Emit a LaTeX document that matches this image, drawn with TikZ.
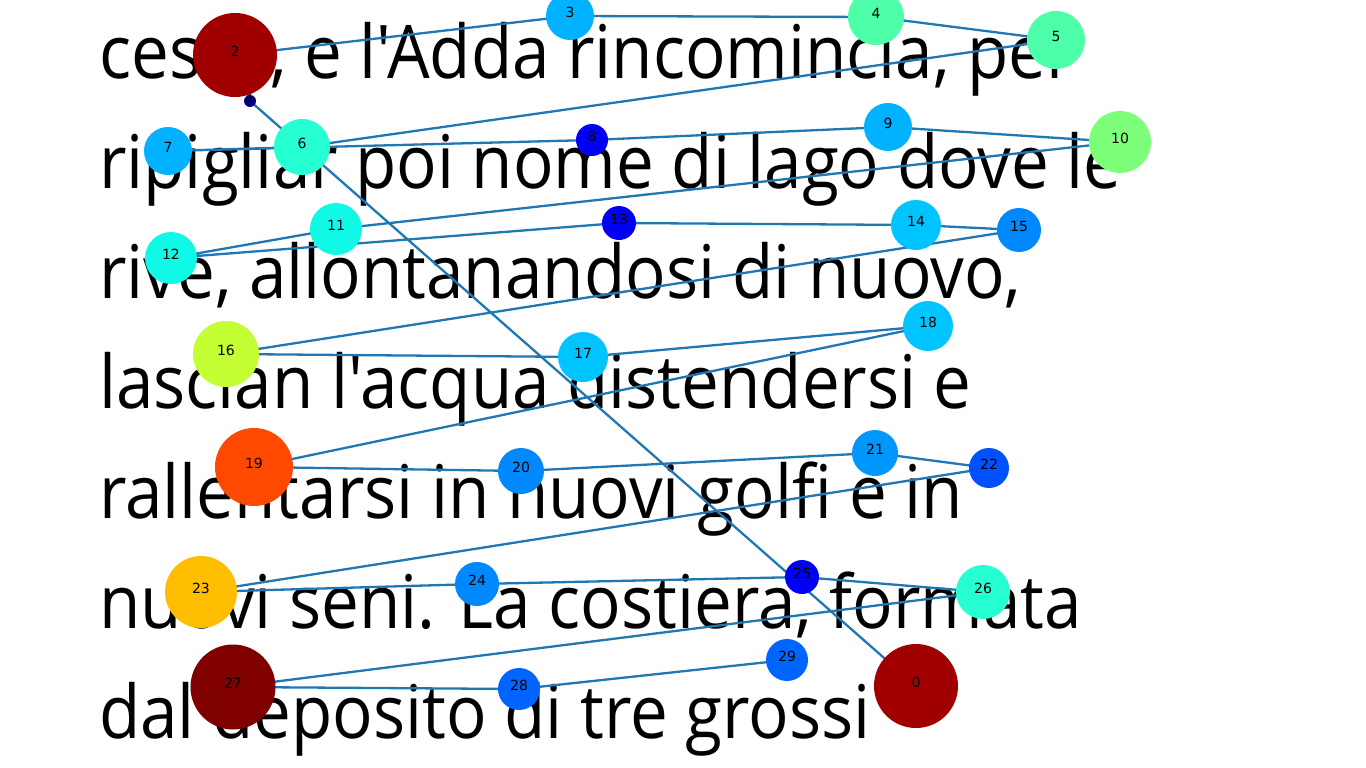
\documentclass[tikz,border=0pt]{standalone}
\usepackage{fontspec}
\usepackage{tikz}
\newfontfamily\bodyfont[Ligatures=TeXOff, FakeStretch=0.91]{Open Sans}
\newfontfamily\numfont{DejaVu Sans}

% jet colours of the nodes
\definecolor{linkblue}{HTML}{1F77B4}
\definecolor{jetmaroon}{RGB}{128,0,0}
\definecolor{jetdarkred}{RGB}{160,0,0}
\definecolor{jetnavy}{RGB}{0,0,128}
\definecolor{jetblue}{RGB}{0,0,245}
\definecolor{jetroyal}{RGB}{0,80,255}
\definecolor{jetazure}{RGB}{0,100,255}
\definecolor{jetdodger}{RGB}{0,136,255}
\definecolor{jetcerul}{RGB}{0,152,255}
\definecolor{jetsky}{RGB}{0,178,255}
\definecolor{jetcyan}{RGB}{0,196,255}
\definecolor{jetturq}{RGB}{16,248,230}
\definecolor{jetaqua}{RGB}{38,255,210}
\definecolor{jetmint}{RGB}{78,255,170}
\definecolor{jetlime}{RGB}{125,255,122}
\definecolor{jetyellow}{RGB}{196,255,52}
\definecolor{jetamber}{RGB}{255,189,0}
\definecolor{jetorange}{RGB}{255,72,0}

\pgfdeclarelayer{prose}
\pgfdeclarelayer{links}
\pgfsetlayers{prose,links,main}

\begin{document}
\begin{tikzpicture}[
  x=1pt, y=-1pt,
  vtx/.style={circle, inner sep=0pt, minimum size=#1},
  num/.style={font=\numfont\fontsize{14}{14}\selectfont, inner sep=0pt, yshift=4pt},
  link/.style={line width=2.3pt, linkblue, line cap=round, line join=round},
  verse/.style={anchor=base west, inner sep=0pt, font=\bodyfont\fontsize{74}{74}\selectfont},
  ]
  \useasboundingbox (0,0) rectangle (1366,768);

  % the prose underneath
  \begin{pgfonlayer}{prose}
    \node[verse] (l1) at (99,78) {cessa, e l'Adda rincomincia, per};
    \node[verse] (l2) at (99,188) {ripigliar poi nome di lago dove le};
    \node[verse] (l3) at (99,298) {rive, allontanandosi di nuovo,};
    \node[verse] (l4) at (99,408) {lascian l'acqua distendersi e};
    \node[verse] (l5) at (99,518) {rallentarsi in nuovi golfi e in};
    \node[verse] (l6) at (99,628) {nuovi seni. La costiera, formata};
    \node[verse] (l7) at (99,738) {dal deposito di tre grossi};
  \end{pgfonlayer}

  % vertices
  \node[vtx=84, fill=jetdarkred, label={[num]center:0}] (n0) at (916,686) {};
  \node[vtx=12, fill=jetnavy, label={[num]center:1}] (n1) at (250,101) {};
  \node[vtx=84, fill=jetdarkred, label={[num]center:2}] (n2) at (235,55) {};
  \node[vtx=48, fill=jetsky, label={[num]center:3}] (n3) at (570,16) {};
  \node[vtx=56, fill=jetmint, label={[num]center:4}] (n4) at (876,17) {};
  \node[vtx=58, fill=jetmint, label={[num]center:5}] (n5) at (1056,40) {};
  \node[vtx=56, fill=jetaqua, label={[num]center:6}] (n6) at (302,147) {};
  \node[vtx=48, fill=jetsky, label={[num]center:7}] (n7) at (168,151) {};
  \node[vtx=32, fill=jetblue, label={[num]center:8}] (n8) at (592,140) {};
  \node[vtx=48, fill=jetsky, label={[num]center:9}] (n9) at (888,127) {};
  \node[vtx=62, fill=jetlime, label={[num]center:10}] (n10) at (1120,142) {};
  \node[vtx=52, fill=jetturq, label={[num]center:11}] (n11) at (336,229) {};
  \node[vtx=52, fill=jetturq, label={[num]center:12}] (n12) at (171,258) {};
  \node[vtx=34, fill=jetblue, label={[num]center:13}] (n13) at (619,223) {};
  \node[vtx=50, fill=jetcyan, label={[num]center:14}] (n14) at (916,225) {};
  \node[vtx=44, fill=jetdodger, label={[num]center:15}] (n15) at (1019,230) {};
  \node[vtx=66, fill=jetyellow, label={[num]center:16}] (n16) at (226,354) {};
  \node[vtx=50, fill=jetcyan, label={[num]center:17}] (n17) at (583,357) {};
  \node[vtx=50, fill=jetcyan, label={[num]center:18}] (n18) at (928,326) {};
  \node[vtx=78, fill=jetorange, label={[num]center:19}] (n19) at (254,467) {};
  \node[vtx=46, fill=jetdodger, label={[num]center:20}] (n20) at (521,471) {};
  \node[vtx=46, fill=jetcerul, label={[num]center:21}] (n21) at (875,453) {};
  \node[vtx=40, fill=jetroyal, label={[num]center:22}] (n22) at (989,468) {};
  \node[vtx=72, fill=jetamber, label={[num]center:23}] (n23) at (201,592) {};
  \node[vtx=44, fill=jetdodger, label={[num]center:24}] (n24) at (477,584) {};
  \node[vtx=34, fill=jetblue, label={[num]center:25}] (n25) at (802,577) {};
  \node[vtx=54, fill=jetaqua, label={[num]center:26}] (n26) at (983,592) {};
  \node[vtx=85, fill=jetmaroon, label={[num]center:27}] (n27) at (233,687) {};
  \node[vtx=42, fill=jetazure, label={[num]center:28}] (n28) at (519,689) {};
  \node[vtx=42, fill=jetazure, label={[num]center:29}] (n29) at (787,660) {};

  % the path through them
  \begin{pgfonlayer}{links}
    \draw[link] (n0.center) -- (n1.center) -- (n2.center) -- (n3.center)
      -- (n4.center) -- (n5.center) -- (n6.center) -- (n7.center)
      -- (n8.center) -- (n9.center) -- (n10.center) -- (n11.center)
      -- (n12.center) -- (n13.center) -- (n14.center) -- (n15.center)
      -- (n16.center) -- (n17.center) -- (n18.center) -- (n19.center)
      -- (n20.center) -- (n21.center) -- (n22.center) -- (n23.center)
      -- (n24.center) -- (n25.center) -- (n26.center) -- (n27.center)
      -- (n28.center) -- (n29.center);
  \end{pgfonlayer}
\end{tikzpicture}
\end{document}
